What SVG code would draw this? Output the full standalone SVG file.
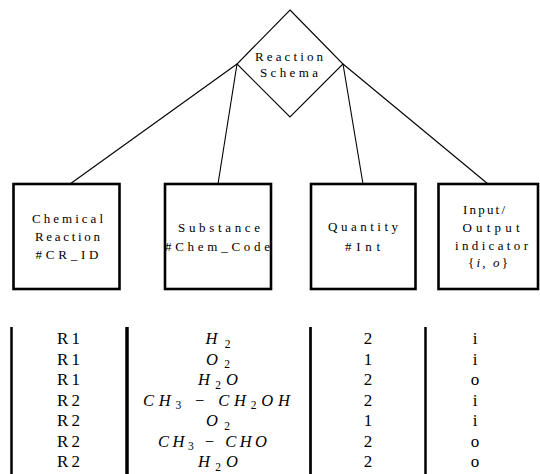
<svg xmlns="http://www.w3.org/2000/svg" width="540" height="474" viewBox="0 0 540 474">
<style>
.edge{stroke:#000;stroke-width:1.1;fill:none}
.dia{stroke:#000;stroke-width:1.1;fill:#fff}
.box{stroke:#000;stroke-width:2.6;fill:#fff}
.col{stroke:#000;fill:none}
</style>
<rect x="0" y="0" width="540" height="474" fill="#fff"/>
<g id="connectors">
<line class="edge" x1="237" y1="64" x2="70" y2="184"/>
<line class="edge" x1="237" y1="64" x2="218" y2="184"/>
<line class="edge" x1="343" y1="64" x2="363" y2="184"/>
<line class="edge" x1="343" y1="64" x2="488" y2="184"/>
</g>
<g id="reaction-schema">
<polygon class="dia" points="290,10 343,64 290,117 237,64"/>
<text x="289" y="61" font-family="Liberation Serif" font-size="13" text-anchor="middle" textLength="68" lengthAdjust="spacing">Reaction</text>
<text x="289" y="77" font-family="Liberation Serif" font-size="13" text-anchor="middle" textLength="58" lengthAdjust="spacing">Schema</text>
</g>
<g id="chemical-reaction">
<rect class="box" x="13.5" y="184" width="106" height="105"/>
<text x="67.5" y="223" font-family="Liberation Serif" font-size="13" text-anchor="middle" textLength="71" lengthAdjust="spacing">Chemical</text>
<text x="67.5" y="241" font-family="Liberation Serif" font-size="13" text-anchor="middle" textLength="65" lengthAdjust="spacing">Reaction</text>
<text x="67" y="259" font-family="Liberation Serif" font-size="13" text-anchor="middle" textLength="63" lengthAdjust="spacing">#CR_ID</text>
</g>
<g id="substance">
<rect class="box" x="165" y="184" width="106" height="105"/>
<text x="219" y="232" font-family="Liberation Serif" font-size="13" text-anchor="middle" textLength="82" lengthAdjust="spacing">Substance</text>
<text x="217.5" y="251" font-family="Liberation Serif" font-size="13" text-anchor="middle" textLength="105" lengthAdjust="spacing">#Chem_Code</text>
</g>
<g id="quantity">
<rect class="box" x="311" y="184" width="104.5" height="105"/>
<text x="363" y="231" font-family="Liberation Serif" font-size="13" text-anchor="middle" textLength="70" lengthAdjust="spacing">Quantity</text>
<text x="362.5" y="251" font-family="Liberation Serif" font-size="13" text-anchor="middle" textLength="35" lengthAdjust="spacing">#Int</text>
</g>
<g id="io-indicator">
<rect class="box" x="438.5" y="184" width="99.5" height="105"/>
<text x="484" y="214" font-family="Liberation Serif" font-size="13" text-anchor="middle" textLength="42" lengthAdjust="spacing">Input/</text>
<text x="491" y="232" font-family="Liberation Serif" font-size="13" text-anchor="middle" textLength="57" lengthAdjust="spacing">Output</text>
<text x="491.5" y="250" font-family="Liberation Serif" font-size="13" text-anchor="middle" textLength="73" lengthAdjust="spacing">indicator</text>
<text x="488" y="267" font-family="Liberation Serif" font-size="13" text-anchor="middle" textLength="40" lengthAdjust="spacing">{<tspan font-style="italic">i</tspan>, <tspan font-style="italic">o</tspan>}</text>
</g>
<g id="table">
<line class="col" x1="11.5" y1="327" x2="11.5" y2="474" stroke-width="2.5"/>
<line class="col" x1="127" y1="327" x2="127" y2="474" stroke-width="3.5"/>
<line class="col" x1="310.5" y1="327" x2="310.5" y2="474" stroke-width="2.7"/>
<line class="col" x1="425.5" y1="327" x2="425.5" y2="474" stroke-width="2.5"/>
<g id="col-reaction">
<text x="68.5" y="344" font-family="Liberation Serif" font-size="17" text-anchor="middle" textLength="23" lengthAdjust="spacing">R1</text>
<text x="68.5" y="364.5" font-family="Liberation Serif" font-size="17" text-anchor="middle" textLength="23" lengthAdjust="spacing">R1</text>
<text x="68.5" y="385" font-family="Liberation Serif" font-size="17" text-anchor="middle" textLength="23" lengthAdjust="spacing">R1</text>
<text x="68.5" y="405.5" font-family="Liberation Serif" font-size="17" text-anchor="middle" textLength="23" lengthAdjust="spacing">R2</text>
<text x="68.5" y="426" font-family="Liberation Serif" font-size="17" text-anchor="middle" textLength="23" lengthAdjust="spacing">R2</text>
<text x="68.5" y="446.5" font-family="Liberation Serif" font-size="17" text-anchor="middle" textLength="23" lengthAdjust="spacing">R2</text>
<text x="68.5" y="467" font-family="Liberation Serif" font-size="17" text-anchor="middle" textLength="23" lengthAdjust="spacing">R2</text>
</g>
<g id="col-substance">
<text x="218" y="344" font-family="Liberation Serif" font-size="16.5" font-style="italic" text-anchor="middle" textLength="25" lengthAdjust="spacing">H<tspan font-size="11.5" font-style="normal" dy="3.5">2</tspan></text>
<text x="218" y="364.5" font-family="Liberation Serif" font-size="16.5" font-style="italic" text-anchor="middle" textLength="24" lengthAdjust="spacing">O<tspan font-size="11.5" font-style="normal" dy="3.5">2</tspan></text>
<text x="218" y="385" font-family="Liberation Serif" font-size="16.5" font-style="italic" text-anchor="middle" textLength="40" lengthAdjust="spacing">H<tspan font-size="11.5" font-style="normal" dy="3.5">2</tspan><tspan dy="-3.5">O</tspan></text>
<text x="216.5" y="405.5" font-family="Liberation Serif" font-size="16.5" font-style="italic" text-anchor="middle" textLength="147" lengthAdjust="spacing">CH<tspan font-size="11.5" font-style="normal" dy="3.5">3</tspan><tspan dy="-3.5" font-style="normal"> − </tspan>CH<tspan font-size="11.5" font-style="normal" dy="3.5">2</tspan><tspan dy="-3.5">OH</tspan></text>
<text x="218" y="426" font-family="Liberation Serif" font-size="16.5" font-style="italic" text-anchor="middle" textLength="24" lengthAdjust="spacing">O<tspan font-size="11.5" font-style="normal" dy="3.5">2</tspan></text>
<text x="212.5" y="446.5" font-family="Liberation Serif" font-size="16.5" font-style="italic" text-anchor="middle" textLength="109" lengthAdjust="spacing">CH<tspan font-size="11.5" font-style="normal" dy="3.5">3</tspan><tspan dy="-3.5" font-style="normal"> − </tspan>CHO</text>
<text x="218" y="467" font-family="Liberation Serif" font-size="16.5" font-style="italic" text-anchor="middle" textLength="40" lengthAdjust="spacing">H<tspan font-size="11.5" font-style="normal" dy="3.5">2</tspan><tspan dy="-3.5">O</tspan></text>
</g>
<g id="col-quantity">
<text x="368" y="344" font-family="Liberation Serif" font-size="17" text-anchor="middle">2</text>
<text x="368" y="364.5" font-family="Liberation Serif" font-size="17" text-anchor="middle">1</text>
<text x="368" y="385" font-family="Liberation Serif" font-size="17" text-anchor="middle">2</text>
<text x="368" y="405.5" font-family="Liberation Serif" font-size="17" text-anchor="middle">2</text>
<text x="368" y="426" font-family="Liberation Serif" font-size="17" text-anchor="middle">1</text>
<text x="368" y="446.5" font-family="Liberation Serif" font-size="17" text-anchor="middle">2</text>
<text x="368" y="467" font-family="Liberation Serif" font-size="17" text-anchor="middle">2</text>
</g>
<g id="col-io">
<text x="475" y="344" font-family="Liberation Serif" font-size="17" text-anchor="middle">i</text>
<text x="475" y="364.5" font-family="Liberation Serif" font-size="17" text-anchor="middle">i</text>
<text x="475" y="385" font-family="Liberation Serif" font-size="17" text-anchor="middle">o</text>
<text x="475" y="405.5" font-family="Liberation Serif" font-size="17" text-anchor="middle">i</text>
<text x="475" y="426" font-family="Liberation Serif" font-size="17" text-anchor="middle">i</text>
<text x="475" y="446.5" font-family="Liberation Serif" font-size="17" text-anchor="middle">o</text>
<text x="475" y="467" font-family="Liberation Serif" font-size="17" text-anchor="middle">o</text>
</g>
</g>
</svg>
